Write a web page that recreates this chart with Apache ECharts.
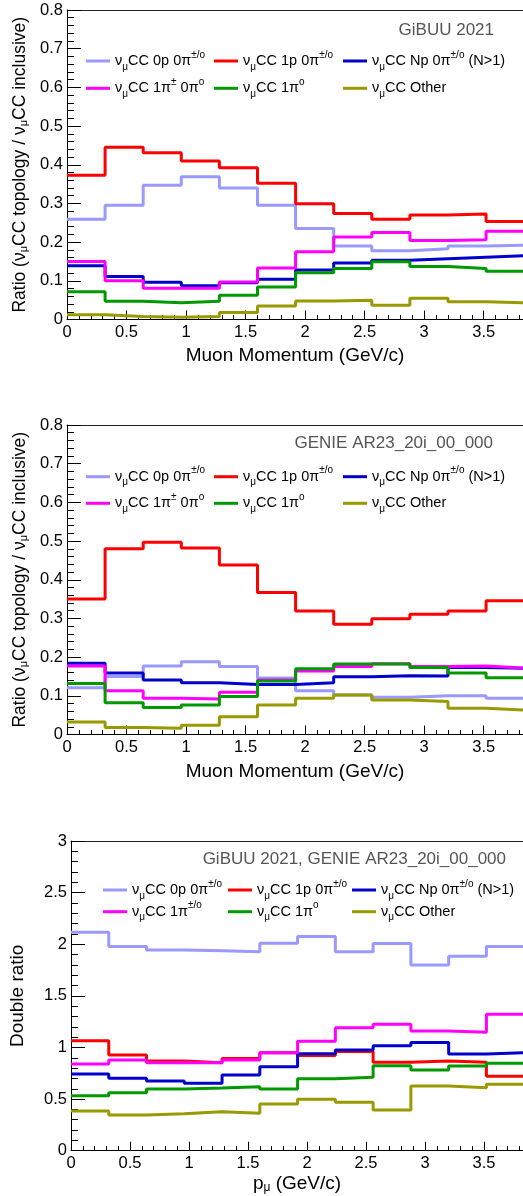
<!DOCTYPE html>
<html><head><meta charset="utf-8">
<script src="https://cdn.jsdelivr.net/npm/echarts@6/dist/echarts.min.js"></script>
<style>html,body{margin:0;padding:0;background:#fff}#c{width:523px;height:1196px}</style>
</head><body><div id="c"></div>
<script>
// ---- data ----
const binEdges = [0, 0.32, 0.64, 0.96, 1.28, 1.6, 1.92, 2.24, 2.56, 2.88, 3.2, 3.52, 3.84];

const gibuu0p    = [0.259,0.295,0.347,0.369,0.340,0.295,0.235,0.190,0.178,0.183,0.190,0.192];
const gibuu1p    = [0.373,0.445,0.431,0.410,0.392,0.352,0.299,0.274,0.259,0.270,0.273,0.253];
const gibuuNp    = [0.139,0.111,0.096,0.087,0.095,0.104,0.128,0.146,0.153,0.157,0.161,0.165];
const gibuu1piC  = [0.150,0.100,0.081,0.081,0.097,0.133,0.175,0.213,0.225,0.204,0.206,0.228];
const gibuu1pi0  = [0.072,0.047,0.043,0.047,0.063,0.084,0.121,0.132,0.149,0.137,0.132,0.125];
const gibuuOther = [0.012,0.008,0.006,0.008,0.018,0.035,0.048,0.050,0.037,0.055,0.046,0.043];

const genie0p    = [0.121,0.150,0.177,0.188,0.176,0.146,0.113,0.102,0.096,0.100,0.100,0.094];
const genie1p    = [0.350,0.480,0.497,0.482,0.438,0.367,0.319,0.285,0.299,0.311,0.319,0.346];
const genieNp    = [0.184,0.159,0.141,0.134,0.129,0.129,0.134,0.149,0.152,0.151,0.173,0.171];
const genie1piC  = [0.177,0.113,0.094,0.092,0.109,0.141,0.164,0.176,0.183,0.176,0.177,0.172];
const genie1pi0  = [0.132,0.082,0.070,0.076,0.098,0.138,0.170,0.182,0.182,0.173,0.159,0.147];
const genieOther = [0.032,0.018,0.016,0.024,0.046,0.076,0.094,0.102,0.089,0.085,0.068,0.063];

const ratio0p    = [2.116,1.977,1.945,1.938,1.928,2.010,2.074,1.928,2.007,1.800,1.884,1.977];
const ratio1p    = [1.066,0.927,0.869,0.853,0.892,0.950,0.921,0.960,0.857,0.869,0.857,0.721];
const ratioNp    = [0.743,0.701,0.675,0.653,0.733,0.814,0.940,0.976,1.017,1.047,0.937,0.950];
const ratio1piC  = [0.840,0.879,0.853,0.853,0.879,0.950,1.060,1.192,1.225,1.160,1.147,1.321];
const ratio1pi0  = [0.533,0.562,0.598,0.607,0.620,0.598,0.698,0.711,0.824,0.782,0.821,0.847];
const ratioOther = [0.385,0.346,0.359,0.378,0.362,0.452,0.498,0.469,0.394,0.627,0.610,0.643];

const topoLabels1 = ['ν{sub|μ}CC 0p 0π{sup|±/o}', 'ν{sub|μ}CC 1p 0π{sup|±/o}', 'ν{sub|μ}CC Np 0π{sup|±/o} (N>1)',
                     'ν{sub|μ}CC 1π{sup|±} 0π{sup|o}', 'ν{sub|μ}CC 1π{sup|o}', 'ν{sub|μ}CC Other'];
const topoLabels3 = ['ν{sub|μ}CC 0p 0π{sup|±/o}', 'ν{sub|μ}CC 1p 0π{sup|±/o}', 'ν{sub|μ}CC Np 0π{sup|±/o} (N>1)',
                     'ν{sub|μ}CC 1π{sup|±/o}', 'ν{sub|μ}CC 1π{sup|o}', 'ν{sub|μ}CC Other'];
const colors = ['#9999ff', '#ff0000', '#0000cc', '#ff00ff', '#009900', '#999900'];

const modelTitles = ['GiBUU 2021', 'GENIE AR23_20i_00_000', 'GiBUU 2021, GENIE AR23_20i_00_000'];
const yTitleRatio = 'Ratio (ν{sub|μ}CC topology / ν{sub|μ}CC inclusive)';
const yTitleDouble = 'Double ratio';
const xTitleMom = 'Muon Momentum (GeV/c)';
const xTitleP = 'p{sub|μ} (GeV/c)';

// ---- layout ----
const FONT = '"Liberation Sans", Arial, Helvetica, sans-serif';
const rich = {
  sub: {fontSize: 10, fontFamily: FONT, color: '#000', verticalAlign: 'bottom', lineHeight: 11},
  sup: {fontSize: 10, fontFamily: FONT, color: '#000', verticalAlign: 'top', lineHeight: 11}
};
const panels = [
  {top: 10, height: 309.5, ymax: 0.8, yint: 0.1, vals: [gibuu0p,gibuu1p,gibuuNp,gibuu1piC,gibuu1pi0,gibuuOther],
   labels: topoLabels1, title: modelTitles[0], titleRight: 29, titleTop: 22,
   xname: xTitleMom, xgap: 27, yname: yTitleRatio, ygap: 38, yfs: 17.5,
   legX: [86, 214, 343], legY: [61, 88.3]},
  {top: 425, height: 309.5, ymax: 0.8, yint: 0.1, vals: [genie0p,genie1p,genieNp,genie1piC,genie1pi0,genieOther],
   labels: topoLabels1, title: modelTitles[1], titleRight: 30, titleTop: 435,
   xname: xTitleMom, xgap: 28, yname: yTitleRatio, ygap: 38, yfs: 17.5,
   legX: [86, 214, 343], legY: [476.7, 503.3]},
  {top: 841, height: 309.7, ymax: 3, yint: 0.5, vals: [ratio0p,ratio1p,ratioNp,ratio1piC,ratio1pi0,ratioOther],
   labels: topoLabels3, title: modelTitles[2], titleRight: 17, titleTop: 851,
   xname: xTitleP, xgap: 24, yname: yTitleDouble, ygap: 44, yfs: 19,
   legX: [103, 228, 352], legY: [890, 911.7]}
];
const XMAX = 3.83;

const option = {animation: false, backgroundColor: '#fff', grid: [], xAxis: [], yAxis: [], series: [], legend: [], title: []};
panels.forEach((p, pi) => {
  option.grid.push({left: 67, top: p.top, width: 456, height: p.height});
  option.xAxis.push({
    type: 'value', gridIndex: pi, min: 0, max: XMAX, interval: 0.5,
    axisLine: {lineStyle: {color: '#000', width: 1}},
    axisTick: {inside: true, length: 9, lineStyle: {color: '#000'}},
    minorTick: {show: true, splitNumber: 5, length: 4.5, lineStyle: {color: '#000'}},
    splitLine: {show: false},
    axisLabel: {color: '#000', fontSize: 16.5, fontFamily: FONT, margin: 4, showMaxLabel: false},
    name: p.xname, nameLocation: 'middle', nameGap: p.xgap,
    nameTextStyle: {color: '#000', fontSize: 19, fontFamily: FONT, rich: {sub: {fontSize: 12, fontFamily: FONT, color:'#000', verticalAlign:'bottom', lineHeight: 12}}}
  });
  option.xAxis.push({
    type: 'value', gridIndex: pi, min: 0, max: XMAX, position: 'top',
    axisLine: {show: true, lineStyle: {color: '#222', width: 1}},
    axisTick: {show: false}, axisLabel: {show: false}, splitLine: {show: false}
  });
  option.yAxis.push({
    type: 'value', gridIndex: pi, min: 0, max: p.ymax, interval: p.yint,
    axisLine: {show: true, lineStyle: {color: '#000', width: 1}},
    axisTick: {inside: true, length: 14, lineStyle: {color: '#000'}},
    minorTick: {show: true, splitNumber: 5, length: 7, lineStyle: {color: '#000'}},
    splitLine: {show: false},
    axisLabel: {color: '#000', fontSize: 16.5, fontFamily: FONT, margin: 4},
    name: p.yname, nameLocation: 'middle', nameGap: p.ygap,
    nameTextStyle: {color: '#000', fontSize: p.yfs, fontFamily: FONT, rich: {sub: {fontSize: 11, fontFamily: FONT, color:'#000', verticalAlign:'bottom', lineHeight: 12}}}
  });
  option.title.push({
    text: p.title, right: p.titleRight, top: p.titleTop, padding: 0,
    textStyle: {color: '#555', fontSize: 17, fontWeight: 'normal', fontFamily: FONT}
  });
  p.vals.forEach((v, si) => {
    const name = 'P' + (pi + 1) + ' ' + p.labels[si].replace(/\{(sub|sup)\|([^}]*)\}/g, '$2');
    const data = v.map((y, i) => [binEdges[i], y]);
    data.push([binEdges[v.length], v[v.length - 1]]);
    option.series.push({
      type: 'line', name: name, xAxisIndex: pi * 2, yAxisIndex: pi, data: data, step: 'end',
      showSymbol: false, symbol: 'none', color: colors[si],
      lineStyle: {color: colors[si], width: 3}, z: 2 + si
    });
    const col = si % 3, row = Math.floor(si / 3);
    const lbl = p.labels[si];
    option.legend.push({
      data: [name], left: p.legX[col], top: p.legY[row] - 11, padding: 0,
      itemWidth: 24, itemHeight: 3, icon: 'rect', selectedMode: false,
      formatter: () => lbl,
      textStyle: {fontSize: 14.5, fontFamily: FONT, color: '#000', lineHeight: 22, rich: rich}
    });
  });
});

const chart = echarts.init(document.getElementById('c'), null, {renderer: 'canvas'});
chart.setOption(option);
</script>
</body></html>
